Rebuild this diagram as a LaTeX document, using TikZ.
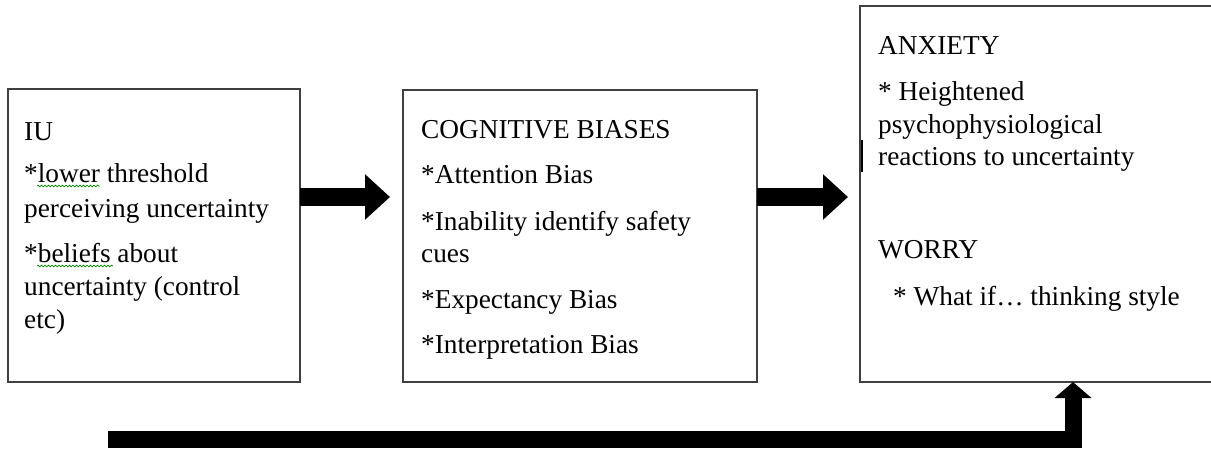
\documentclass[tikz,border=0pt]{standalone}
\usepackage{fontspec}
\setmainfont{Liberation Serif}
\usetikzlibrary{arrows.meta,decorations.pathmorphing,calc}
\begin{document}
\begin{tikzpicture}[x=1pt,y=-1pt,
  box/.style={draw=black!75, line width=1.3pt, inner sep=0pt, outer sep=0pt, rectangle},
  txt/.style={anchor=base west, inner sep=0pt, font=\fontsize{27.3}{33}\selectfont},
  fatarrow/.style={line width=18pt, draw=black, -{Triangle[length=25pt,width=44pt]}},
  uparrow/.style={line width=17pt, draw=black, line join=miter, -{Triangle[length=16pt,width=36pt]}},
  squig/.style={draw=green!55!black, line width=0.7pt, decorate, decoration={snake, amplitude=0.9pt, segment length=3.5pt}}
]
\useasboundingbox (0,0) rectangle (1211,452);

% boxes
\node[box, minimum width=292pt, minimum height=293pt] (b1) at (154,235.5) {};
\node[box, minimum width=354pt, minimum height=292pt] (b2) at (580,236) {};
\node[box, minimum width=353pt, minimum height=376pt] (b3) at (1036.5,194) {};
\draw[line width=2.5pt] (862,140) -- (862,172);

% box 1 text
\node[txt] (t11) at (24,140) {IU};
\node[txt] (t12) at (24,182) {*lower threshold};
\node[txt] (t13) at (24,217) {perceiving uncertainty};
\node[txt] (t14) at (24,262) {*beliefs about};
\node[txt] (t15) at (24,295) {uncertainty (control};
\node[txt] (t16) at (24,328) {etc)};
\draw[squig] ($(t12.base west)+(13,4)$) -- ++(63,0);
\draw[squig] ($(t14.base west)+(13,4)$) -- ++(76,0);

% box 2 text
\node[txt] (t21) at (421,138) {COGNITIVE BIASES};
\node[txt] (t22) at (421,183) {*Attention Bias};
\node[txt] (t23) at (421,230) {*Inability identify safety};
\node[txt] (t24) at (421,262) {cues};
\node[txt] (t25) at (421,308) {*Expectancy Bias};
\node[txt] (t26) at (421,353) {*Interpretation Bias};

% box 3 text
\node[txt] (t31) at (878,55) {ANXIETY};
\node[txt] (t32) at (878,100) {* Heightened};
\node[txt] (t33) at (878,133) {psychophysiological};
\node[txt] (t34) at (878,165) {reactions to uncertainty};
\node[txt] (t35) at (878,258) {WORRY};
\node[txt] (t36) at (893,305) {* What if… thinking style};

% arrows
\coordinate (ya) at (0,197);
\draw[fatarrow] (b1.east |- ya) -- ($(b2.west |- ya)+(-13,0)$);
\draw[fatarrow] (b2.east |- ya) -- ($(b3.west |- ya)+(-12,0)$);
\coordinate (bl) at (108,439);
\coordinate (bx) at (1073,0);
\draw[uparrow] (bl) -- (bx |- bl) -- (bx |- b3.south);
\end{tikzpicture}
\end{document}
